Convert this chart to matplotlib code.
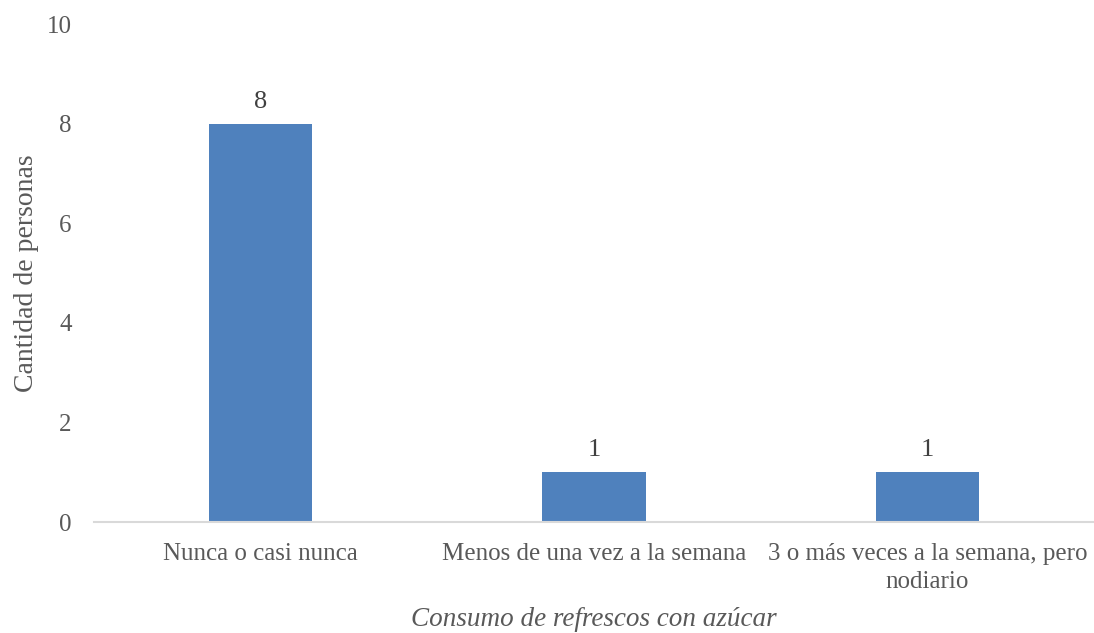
import matplotlib.pyplot as plt

# Data
categorias = ["Nunca o casi nunca", "Menos de una vez a la semana",
              "3 o más veces a la semana, pero\nnodiario"]
personas = [8, 1, 1]

plt.rcParams['font.family'] = ['Liberation Serif', 'DejaVu Serif']
gris = "#595959"

fig = plt.figure(figsize=(10.94, 6.33), dpi=100)
ax = fig.add_axes([0.086, 0.175, 0.914, 0.787])

x = range(len(categorias))
barras = ax.bar(x, personas, width=0.31, color="#4F81BD")
ax.bar_label(barras, labels=[str(v) for v in personas], padding=8,
             fontsize=19, color="#404040")

ax.set_xlim(-0.5, 2.5)
ax.set_ylim(0, 10)
ax.set_yticks([0, 2, 4, 6, 8, 10])
ax.set_xticks(list(x))
ax.set_xticklabels(categorias, fontsize=18, color=gris, linespacing=1.35)
ax.tick_params(axis='y', labelsize=18, labelcolor=gris, length=0, pad=16)
ax.tick_params(axis='x', length=0, pad=15)

for lado in ["top", "right", "left"]:
    ax.spines[lado].set_visible(False)
ax.spines["bottom"].set_color("#d9d9d9")
ax.spines["bottom"].set_linewidth(1.5)

ax.set_ylabel("Cantidad de personas", fontsize=20, color=gris, labelpad=6)
ax.set_xlabel("Consumo de refrescos con azúcar", fontsize=19.5, color=gris,
              style="italic", labelpad=10)

fig.savefig("out.png", dpi=100)
